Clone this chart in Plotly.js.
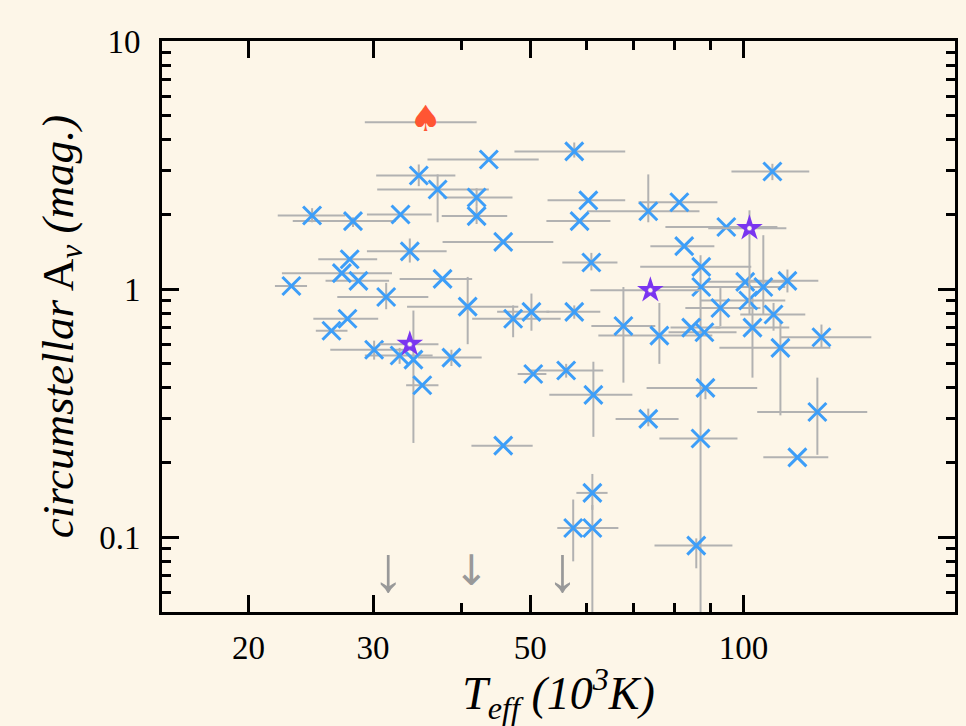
<!DOCTYPE html>
<html><head><meta charset="utf-8">
<script src="https://cdn.plot.ly/plotly-3.0.1.min.js"></script>
<style>html,body{margin:0;padding:0;background:#FDF6E8;}</style>
</head><body><div id="chart" style="width:966px;height:726px;"></div>
<script>
// Blue crosses: Teff (10^3 K), circumstellar Av (mag), error bounds
const tempX = [23.0,24.6,28.1,32.8,34.8,37.0,42.0,42.0,43.7,57.7,60.4,58.7,73.4,81.2,94.6,109.9,
  33.8,27.8,27.1,28.6,31.3,37.6,40.8,27.6,26.2,30.1,32.7,34.2,38.7,35.2,45.8,61.0,82.5,87.2,87.2,
  100.6,106.7,115.4,101.6,92.8,110.3,103.0,88.1,84.4,128.9,112.8,88.4,127.2,119.2,87.0,73.4,76.1,
  67.7,61.4,50.5,56.2,45.8,47.3,50.2,57.7,61.2,57.5,61.2,85.8];
const avY = [1.03,1.98,1.88,2.0,2.87,2.52,2.34,1.97,3.33,3.59,2.28,1.88,2.06,2.24,1.78,2.98,
  1.42,1.32,1.16,1.08,0.93,1.10,0.85,0.76,0.68,0.57,0.54,0.52,0.53,0.41,1.55,1.28,1.49,1.23,1.02,
  1.07,1.02,1.08,0.90,0.84,0.79,0.70,0.67,0.70,0.64,0.58,0.40,0.32,0.21,0.25,0.30,0.65,
  0.71,0.375,0.455,0.47,0.234,0.76,0.81,0.81,0.151,0.109,0.109,0.0926];
const tempLo = [21.8,22.0,23.1,29.4,30.3,30.4,37.7,37.5,35.8,47.5,52.9,52.7,60.2,71.1,77.6,96.2,
  29.4,25.1,22.3,25.7,26.7,32.7,33.5,24.7,24.9,26.1,29.2,null,34.7,33.4,37.6,55.5,73.9,71.5,75.9,
  88.4,null,102.3,87.0,82.8,99.0,91.3,78.4,78.9,112.8,92.5,73.0,104.6,106.7,76.1,66.0,62.4,
  61.0,53.2,48.0,50.0,41.3,41.4,44.9,52.7,58.1,null,54.6,74.9];
const tempHi = [24.2,27.4,32.3,36.3,39.2,43.7,47.2,46.4,51.4,68.1,68.1,64.9,86.7,91.9,111.7,123.9,
  38.1,30.4,31.9,31.6,35.9,41.4,48.1,30.5,27.6,34.4,36.4,null,42.7,37.1,53.9,66.4,91.0,102.6,114.6,
  116.5,null,127.6,114.6,105.7,122.3,116.1,97.8,92.8,151.6,132.7,104.6,149.6,131.8,98.1,81.0,90.4,
  75.1,69.7,52.7,63.4,50.4,55.2,53.2,62.8,64.3,null,66.6,96.5];
const avLo = [null,1.86,1.78,null,2.60,1.86,2.16,1.83,null,3.39,null,null,1.86,null,null,2.75,
  1.28,null,null,null,0.83,null,0.60,null,null,0.52,0.50,0.24,0.49,null,null,1.19,null,null,null,
  null,0.79,0.97,null,0.71,0.68,0.44,null,null,0.58,0.31,0.36,0.215,null,0.04,0.28,0.50,
  0.42,0.254,null,0.44,null,0.64,0.68,0.76,0.129,0.080,0.04,0.075];
const avHi = [null,2.12,1.95,null,3.18,2.90,2.55,2.16,null,3.90,null,null,2.90,null,null,3.2,
  1.60,null,null,null,1.06,null,1.12,null,null,0.62,0.58,0.82,0.57,null,null,1.40,null,null,null,
  null,1.65,1.20,null,1.01,0.88,0.92,null,null,0.72,0.74,0.40,0.44,null,1.37,0.33,0.88,
  1.02,0.51,null,0.50,null,0.86,0.96,0.86,0.180,0.142,0.135,0.099];

// Purple stars
const starX = [33.8,73.9,102.0];
const starY = [0.60,0.99,1.76];
const starXLo = [30.7,60.8,89.2];
const starXHi = [37.1,87.0,115.0];
const starYLo = [null,null,0.786];
const starYHi = [null,null,2.078];

// Red spade
const spadeX = [35.6];
const spadeY = [4.7];
const spadeXLo = [29.2];
const spadeXHi = [42.0];

// Upper-limit arrows
const limitX = [31.5,55.5];
const limitY = [0.0707,0.0707];
const limitBoldX = [41.3];
const limitBoldY = [0.0707];

const xTickVals = [20,30,50,100];
const xTickText = ['20','30','50','100'];
const xMinorVals = [40,60,70,80,90];
const yTickVals = [0.1,1,10];
const yTickText = ['0.1','1','10'];
const yMinorVals = [0.06,0.07,0.08,0.09,0.2,0.3,0.4,0.5,0.6,0.7,0.8,0.9,2,3,4,5,6,7,8,9];

function plus(v, hi){ return v.map((a,i)=> hi[i]==null ? 0 : hi[i]-a); }
function minus(v, lo){ return v.map((a,i)=> lo[i]==null ? 0 : a-lo[i]); }

const errStyle = {color:'rgb(178,178,178)', thickness:2, width:0};
const font = 'Liberation Serif, Times New Roman, serif';

const traces = [
  {
    type:'scatter', mode:'markers', x:tempX, y:avY,
    marker:{symbol:'x-thin', size:18, color:'#3D9EF8', line:{color:'#3D9EF8', width:3}},
    error_x:Object.assign({type:'data', symmetric:false, array:plus(tempX,tempHi), arrayminus:minus(tempX,tempLo)}, errStyle),
    error_y:Object.assign({type:'data', symmetric:false, array:plus(avY,avHi), arrayminus:minus(avY,avLo)}, errStyle),
    showlegend:false, hoverinfo:'x+y'
  },
  {
    type:'scatter', mode:'markers', x:starX, y:starY,
    marker:{symbol:'star', size:20, color:'#7A35F0', line:{color:'#7A35F0', width:0}},
    error_x:Object.assign({type:'data', symmetric:false, array:plus(starX,starXHi), arrayminus:minus(starX,starXLo)}, errStyle),
    error_y:Object.assign({type:'data', symmetric:false, array:plus(starY,starYHi), arrayminus:minus(starY,starYLo)}, errStyle),
    showlegend:false
  },
  {
    type:'scatter', mode:'markers', x:starX, y:starY,
    marker:{symbol:'circle', size:5, color:'#FDF6E8', line:{color:'#7A35F0', width:0.5}},
    showlegend:false, hoverinfo:'skip'
  },
  {
    type:'scatter', mode:'text', x:spadeX, y:spadeY, text:['\u2660'],
    textposition:'middle center',
    textfont:{family:'DejaVu Sans', size:36, color:'#FF5533'},
    error_x:Object.assign({type:'data', symmetric:false, array:plus(spadeX,spadeXHi), arrayminus:minus(spadeX,spadeXLo)}, errStyle),
    showlegend:false, cliponaxis:false
  },
  {
    type:'scatter', mode:'text', x:limitX, y:limitY, text:limitX.map(()=> '\u2193'),
    textposition:'middle center',
    textfont:{family:'Liberation Serif', size:64, color:'#999999'},
    showlegend:false
  },
  {
    type:'scatter', mode:'text', x:limitBoldX, y:limitBoldY, text:['\u2193'],
    textposition:'middle center',
    textfont:{family:'DejaVu Sans', size:42, color:'#999999'},
    showlegend:false
  }
];

const axisCommon = {
  type:'log', showgrid:false, zeroline:false,
  showline:true, linewidth:3, linecolor:'black', mirror:'allticks',
  ticks:'inside', ticklen:17, tickwidth:3, tickcolor:'black',
  tickfont:{family:font, size:33, color:'black'},
  automargin:false
};

const layout = {
  width:966, height:726,
  paper_bgcolor:'#FDF6E8', plot_bgcolor:'#FDF6E8',
  margin:{l:162, r:11, t:41, b:114},
  showlegend:false,
  xaxis:Object.assign({}, axisCommon, {
    range:[Math.log10(15.1), Math.log10(199)],
    tickmode:'array', tickvals:xTickVals, ticktext:xTickText,
    ticklabelstandoff:4,
    minor:{tickmode:'array', tickvals:xMinorVals, ticks:'inside', ticklen:9, tickwidth:3, tickcolor:'black', showgrid:false},
    title:{text:'<i>T<sub>eff</sub> (10<sup>3</sup>K)</i>', font:{family:font, size:46, color:'black'}, standoff:6}
  }),
  yaxis:Object.assign({}, axisCommon, {
    range:[Math.log10(0.05), 1],
    tickmode:'array', tickvals:yTickVals, ticktext:yTickText,
    ticklabelstandoff:12,
    minor:{tickmode:'array', tickvals:yMinorVals, ticks:'inside', ticklen:9, tickwidth:3, tickcolor:'black', showgrid:false},
    title:{text:'<i>circumstellar</i> A<sub><i>v</i></sub> <i>(mag.)</i>', font:{family:font, size:45, color:'black'}, standoff:12}
  })
};

Plotly.newPlot('chart', traces, layout, {displayModeBar:false, staticPlot:true});
</script>
</body></html>
